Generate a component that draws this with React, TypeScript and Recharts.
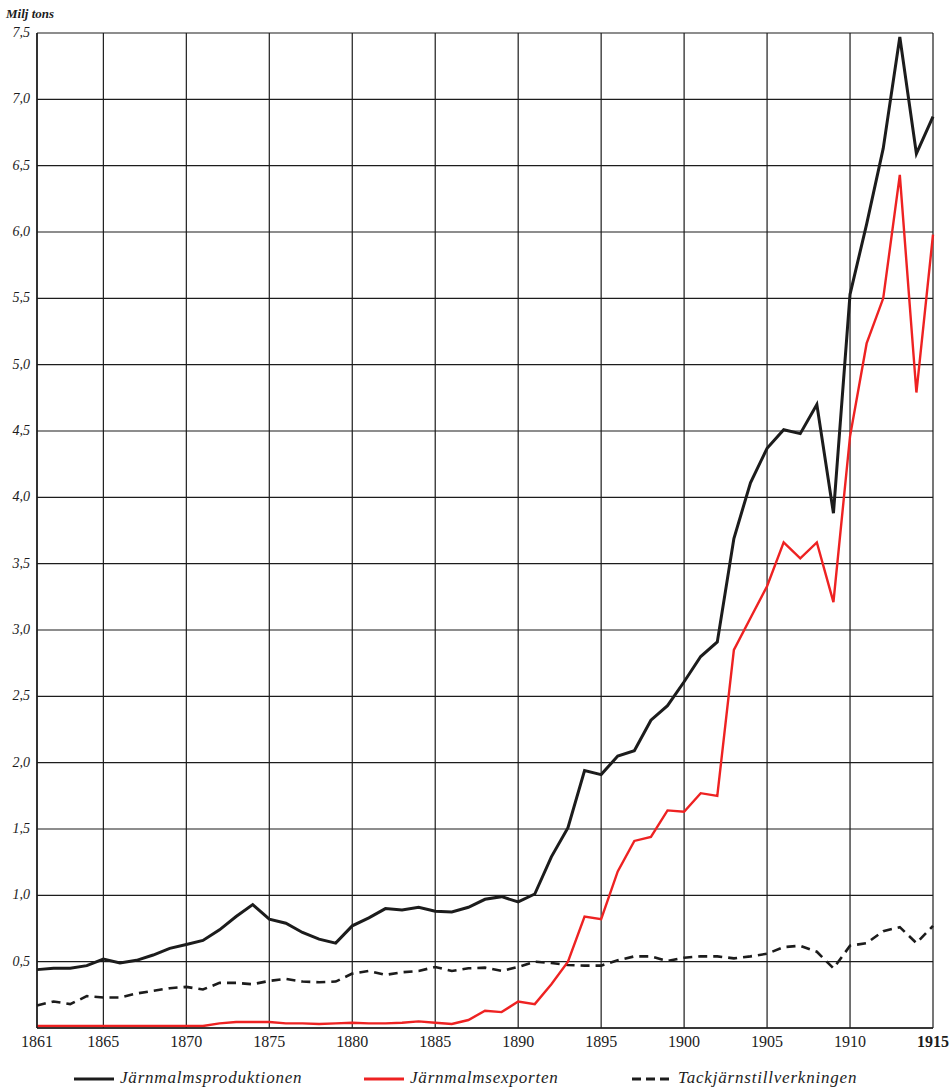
import { CartesianGrid, Line, LineChart, XAxis, YAxis } from "recharts";

const years = [
  1861, 1862, 1863, 1864, 1865, 1866, 1867, 1868, 1869, 1870,
  1871, 1872, 1873, 1874, 1875, 1876, 1877, 1878, 1879, 1880,
  1881, 1882, 1883, 1884, 1885, 1886, 1887, 1888, 1889, 1890,
  1891, 1892, 1893, 1894, 1895, 1896, 1897, 1898, 1899, 1900,
  1901, 1902, 1903, 1904, 1905, 1906, 1907, 1908, 1909, 1910,
  1911, 1912, 1913, 1914, 1915,
];

// Järnmalmsproduktionen (milj. ton)
const production = [
  0.44, 0.45, 0.45, 0.47, 0.52, 0.49, 0.51, 0.55, 0.6, 0.63,
  0.66, 0.74, 0.84, 0.93, 0.82, 0.79, 0.72, 0.67, 0.64, 0.77,
  0.83, 0.9, 0.89, 0.91, 0.88, 0.875, 0.91, 0.97, 0.99, 0.95,
  1.01, 1.29, 1.51, 1.94, 1.91, 2.05, 2.09, 2.32, 2.43, 2.61,
  2.8, 2.91, 3.69, 4.11, 4.37, 4.51, 4.48, 4.7, 3.88, 5.53,
  6.06, 6.63, 7.47, 6.59, 6.87,
];

// Järnmalmsexporten
const exports = [
  0.015, 0.015, 0.015, 0.015, 0.015, 0.015, 0.015, 0.015, 0.015, 0.015,
  0.015, 0.035, 0.045, 0.045, 0.045, 0.035, 0.035, 0.03, 0.035, 0.04,
  0.035, 0.035, 0.04, 0.05, 0.04, 0.03, 0.06, 0.13, 0.12, 0.2,
  0.18, 0.33, 0.5, 0.84, 0.82, 1.18, 1.41, 1.44, 1.64, 1.63,
  1.77, 1.75, 2.85, 3.09, 3.33, 3.66, 3.54, 3.66, 3.21, 4.46,
  5.16, 5.5, 6.43, 4.79, 5.98,
];

// Tackjärnstillverkningen
const pigIron = [
  0.17, 0.2, 0.18, 0.24, 0.23, 0.23, 0.26, 0.28, 0.3, 0.31,
  0.29, 0.34, 0.34, 0.33, 0.355, 0.37, 0.35, 0.345, 0.35, 0.41,
  0.43, 0.4, 0.42, 0.43, 0.46, 0.43, 0.45, 0.455, 0.43, 0.46,
  0.5, 0.49, 0.475, 0.47, 0.47, 0.51, 0.54, 0.54, 0.505, 0.53,
  0.54, 0.54, 0.525, 0.54, 0.56, 0.61, 0.62, 0.575, 0.45, 0.62,
  0.64, 0.73, 0.76, 0.64, 0.77,
];

const xTicks = [1861, 1865, 1870, 1875, 1880, 1885, 1890, 1895, 1900, 1905, 1910, 1915];
const yTicks = [0, 0.5, 1, 1.5, 2, 2.5, 3, 3.5, 4, 4.5, 5, 5.5, 6, 6.5, 7, 7.5];

const data = years.map((year, i) => ({
  year,
  production: production[i],
  exports: exports[i],
  pigIron: pigIron[i],
}));

const ink = "#1c1c1c";
const red = "#ee2222";
const serif = "'Liberation Serif', 'DejaVu Serif', serif";

function YearTick({ x, y, payload }: any) {
  const last = payload.value === 1915;
  return (
    <text
      x={x}
      y={y + 11}
      textAnchor="middle"
      fontFamily={serif}
      fontSize={16}
      fontWeight={last ? 700 : 400}
      fill={ink}
    >
      {payload.value}
    </text>
  );
}

function ValueTick({ x, y, payload }: any) {
  if (payload.value === 0) return null;
  return (
    <text
      x={x + 1}
      y={y + 4}
      textAnchor="end"
      fontFamily={serif}
      fontStyle="italic"
      fontSize={14}
      fill={ink}
    >
      {payload.value.toFixed(1).replace(".", ",")}
    </text>
  );
}

function LegendItem({ left, color, dash, label }: { left: number; color: string; dash?: boolean; label: string }) {
  return (
    <div style={{ position: "absolute", left, top: 0, display: "flex", alignItems: "center" }}>
      <svg width={44} height={10}>
        <line
          x1={2}
          y1={6}
          x2={42}
          y2={6}
          stroke={color}
          strokeWidth={3}
          strokeDasharray={dash ? "9 5" : undefined}
        />
      </svg>
      <span style={{ fontFamily: serif, fontStyle: "italic", fontSize: 17, color: ink, marginLeft: 4, letterSpacing: 0.8 }}>
        {label}
      </span>
    </div>
  );
}

export default function App() {
  return (
    <div style={{ position: "relative", width: 950, height: 1087, background: "#fff" }}>
      <style>{"body{margin:0}"}</style>
      <div
        style={{
          position: "absolute",
          left: 6,
          top: 6,
          fontFamily: serif,
          fontStyle: "italic",
          fontWeight: 700,
          fontSize: 13,
          color: ink,
        }}
      >
        Milj tons
      </div>
      <LineChart width={950} height={1087} data={data} margin={{ top: 33, right: 17, bottom: 0, left: 0 }}>
        <CartesianGrid stroke={ink} strokeWidth={1.2} />
        <XAxis
          dataKey="year"
          type="number"
          domain={[1861, 1915]}
          ticks={xTicks}
          tick={<YearTick />}
          tickLine={false}
          axisLine={{ stroke: ink, strokeWidth: 1.5 }}
          interval={0}
          height={59}
        />
        <YAxis
          type="number"
          domain={[0, 7.5]}
          ticks={yTicks}
          tick={<ValueTick />}
          tickLine={false}
          axisLine={{ stroke: ink, strokeWidth: 1.5 }}
          interval={0}
          width={37}
        />
        <Line
          dataKey="pigIron"
          stroke={ink}
          strokeWidth={2.6}
          strokeDasharray="9 6"
          dot={false}
          isAnimationActive={false}
        />
        <Line dataKey="exports" stroke={red} strokeWidth={2.4} dot={false} isAnimationActive={false} />
        <Line dataKey="production" stroke={ink} strokeWidth={3} dot={false} isAnimationActive={false} />
      </LineChart>
      <div style={{ position: "absolute", left: 0, top: 1068, width: 950, height: 20 }}>
        <LegendItem left={72} color={ink} label="Järnmalmsproduktionen" />
        <LegendItem left={362} color={red} label="Järnmalmsexporten" />
        <LegendItem left={630} color={ink} dash label="Tackjärnstillverkningen" />
      </div>
    </div>
  );
}
